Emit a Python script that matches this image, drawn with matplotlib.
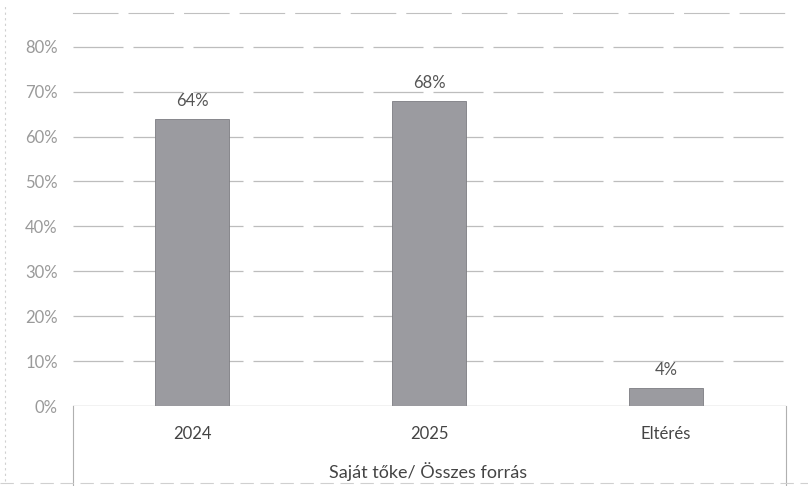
import matplotlib.pyplot as plt
import matplotlib.lines as mlines
import numpy as np

# Chart data
categories = ['2024', '2025', 'Eltérés']
values = [0.64, 0.68, 0.04]
value_labels = ['64%', '68%', '4%']
y_ticks = [0.0, 0.1, 0.2, 0.3, 0.4, 0.5, 0.6, 0.7, 0.8]
group_label = 'Saját tőke/ Összes forrás'

plt.rcParams['font.family'] = ['Lato', 'DejaVu Sans']

W, H = 808, 486
fig = plt.figure(figsize=(W / 100, H / 100), dpi=100)
ax = fig.add_axes([73 / W, 80 / H, (786 - 73) / W, 393 / H])

x = np.arange(len(categories))
ax.bar(x, values, width=0.31, color='#9b9ba0', edgecolor='#7d7d82', linewidth=0.6, zorder=3)

ax.set_xlim(-0.502, 2.506)
ax.set_ylim(0, 0.875)

# gridlines
for t in y_ticks[1:]:
    ax.axhline(t, color='#bdbdbd', lw=0.9, ls=(0, (40, 8)), zorder=1)
ax.axhline(0, color='#9a9a9a', lw=0.9, zorder=4)

# data labels
for xi, v, lab in zip(x, values, value_labels):
    ax.text(xi, v + 0.022, lab, ha='center', va='bottom', fontsize=12, color='#555555')

ax.set_yticks(y_ticks)
ax.set_yticklabels([f'{int(round(t * 100))}%' for t in y_ticks], fontsize=12, color='#9a9a9a')
ax.tick_params(axis='y', length=0, pad=11)
ax.set_xticks([])

for s in ['left', 'right', 'bottom']:
    ax.spines[s].set_visible(False)
ax.spines['top'].set_color('#c0c0c0')
ax.spines['top'].set_linestyle((0, (40, 10)))
ax.spines['top'].set_linewidth(0.8)

# category labels below the axis (multi-level axis look)
for xi, c in zip(x, categories):
    ax.text(xi, -0.045, c, ha='center', va='top', fontsize=12, color='#444444')
fig.text(428 / W, 1 - 472 / H, group_label, ha='center', va='center', fontsize=13, color='#444444')

# box lines around category area
fig.add_artist(mlines.Line2D([73 / W, 73 / W], [0, 80 / H], color='#b0b0b0', lw=0.8))
fig.add_artist(mlines.Line2D([786 / W, 786 / W], [0, 80 / H], color='#b0b0b0', lw=0.8))
# faint chart border on the left and bottom
fig.add_artist(mlines.Line2D([5 / W, 5 / W], [0.01, 0.99], color='#d0d0d0', lw=0.8, ls=(0, (2, 3))))
fig.add_artist(mlines.Line2D([0.0, 1.0], [3 / H, 3 / H], color='#d0d0d0', lw=0.8, ls=(0, (12, 6))))

fig.savefig('out.png', dpi=100)
